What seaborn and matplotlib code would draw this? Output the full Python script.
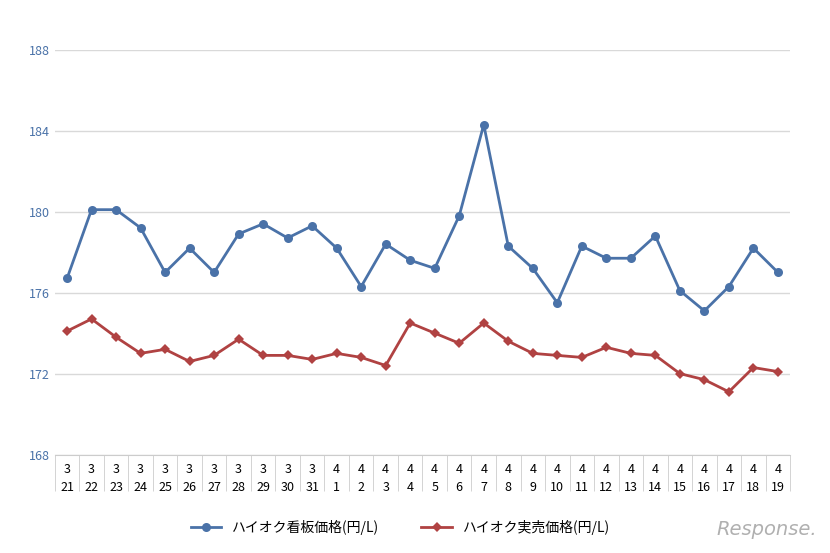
import matplotlib
matplotlib.use("Agg")
import matplotlib.pyplot as plt
import seaborn as sns
import pandas as pd
import numpy as np

months = ["3"]*11 + ["4"]*19
days = [str(d) for d in range(21, 32)] + [str(d) for d in range(1, 20)]
kanban = [176.7,180.1,180.1,179.2,177.0,178.2,177.0,178.9,179.4,178.7,179.3,
          178.2,176.3,178.4,177.6,177.2,179.8,184.3,178.3,177.2,175.5,178.3,
          177.7,177.7,178.8,176.1,175.1,176.3,178.2,177.0]
jitsubai = [174.1,174.7,173.8,173.0,173.2,172.6,172.9,173.7,172.9,172.9,172.7,
            173.0,172.8,172.4,174.5,174.0,173.5,174.5,173.6,173.0,172.9,172.8,
            173.3,173.0,172.9,172.0,171.7,171.1,172.3,172.1]
s1 = "ハイオク看板価格(円/L)"
s2 = "ハイオク実売価格(円/L)"

plt.rcParams["font.family"] = "Noto Sans CJK JP"
labels = [f"{m}\n{d}" for m, d in zip(months, days)]
df = pd.DataFrame({"x": list(range(30))*2, "v": kanban + jitsubai,
                   "s": [s1]*30 + [s2]*30})

fig = plt.figure(figsize=(8.3, 5.53), dpi=100)
ax = fig.add_axes([0.066, 0.178, 0.886, 0.732])
sns.lineplot(data=df, x="x", y="v", hue="s", style="s", markers=["o", "D"],
             dashes=False, palette=["#4a72a8", "#b04242"], ax=ax, linewidth=2,
             markersize=6.5, markeredgewidth=0)
for ln in ax.get_lines():
    if ln.get_marker() == "D":
        ln.set_markersize(5)
ax.set_xlim(-0.5, 29.5)
ax.set_ylim(168, 188)
ax.set_yticks([168, 172, 176, 180, 184, 188])
ax.tick_params(axis="y", length=0, labelcolor="#4a72a8", labelsize=9)
ax.set_xticks(range(30))
ax.set_xticklabels(labels, fontsize=9, linespacing=1.5)
ax.tick_params(axis="x", length=0, pad=6)
ax.set_xticks(np.arange(-0.5, 30, 1), minor=True)
ax.tick_params(axis="x", which="minor", length=26, color="#cccccc")
ax.grid(axis="y", color="#d9d9d9", linewidth=1)
for s in ["top", "right", "left"]:
    ax.spines[s].set_visible(False)
ax.spines["bottom"].set_color("#cccccc")
ax.set_xlabel(""); ax.set_ylabel("")
leg = ax.legend(loc="upper center", bbox_to_anchor=(0.47, -0.13), ncol=2,
                frameon=False, fontsize=10, handlelength=2.2, columnspacing=3)
for h in leg.legend_handles:
    if h.get_marker() == "D":
        h.set_markersize(5)
fig.text(0.985, 0.025, "Response.", ha="right", va="bottom", fontsize=14,
         color="#b0b0b0", style="italic", fontfamily="DejaVu Sans")
fig.savefig("out.png", dpi=100, facecolor="white")
